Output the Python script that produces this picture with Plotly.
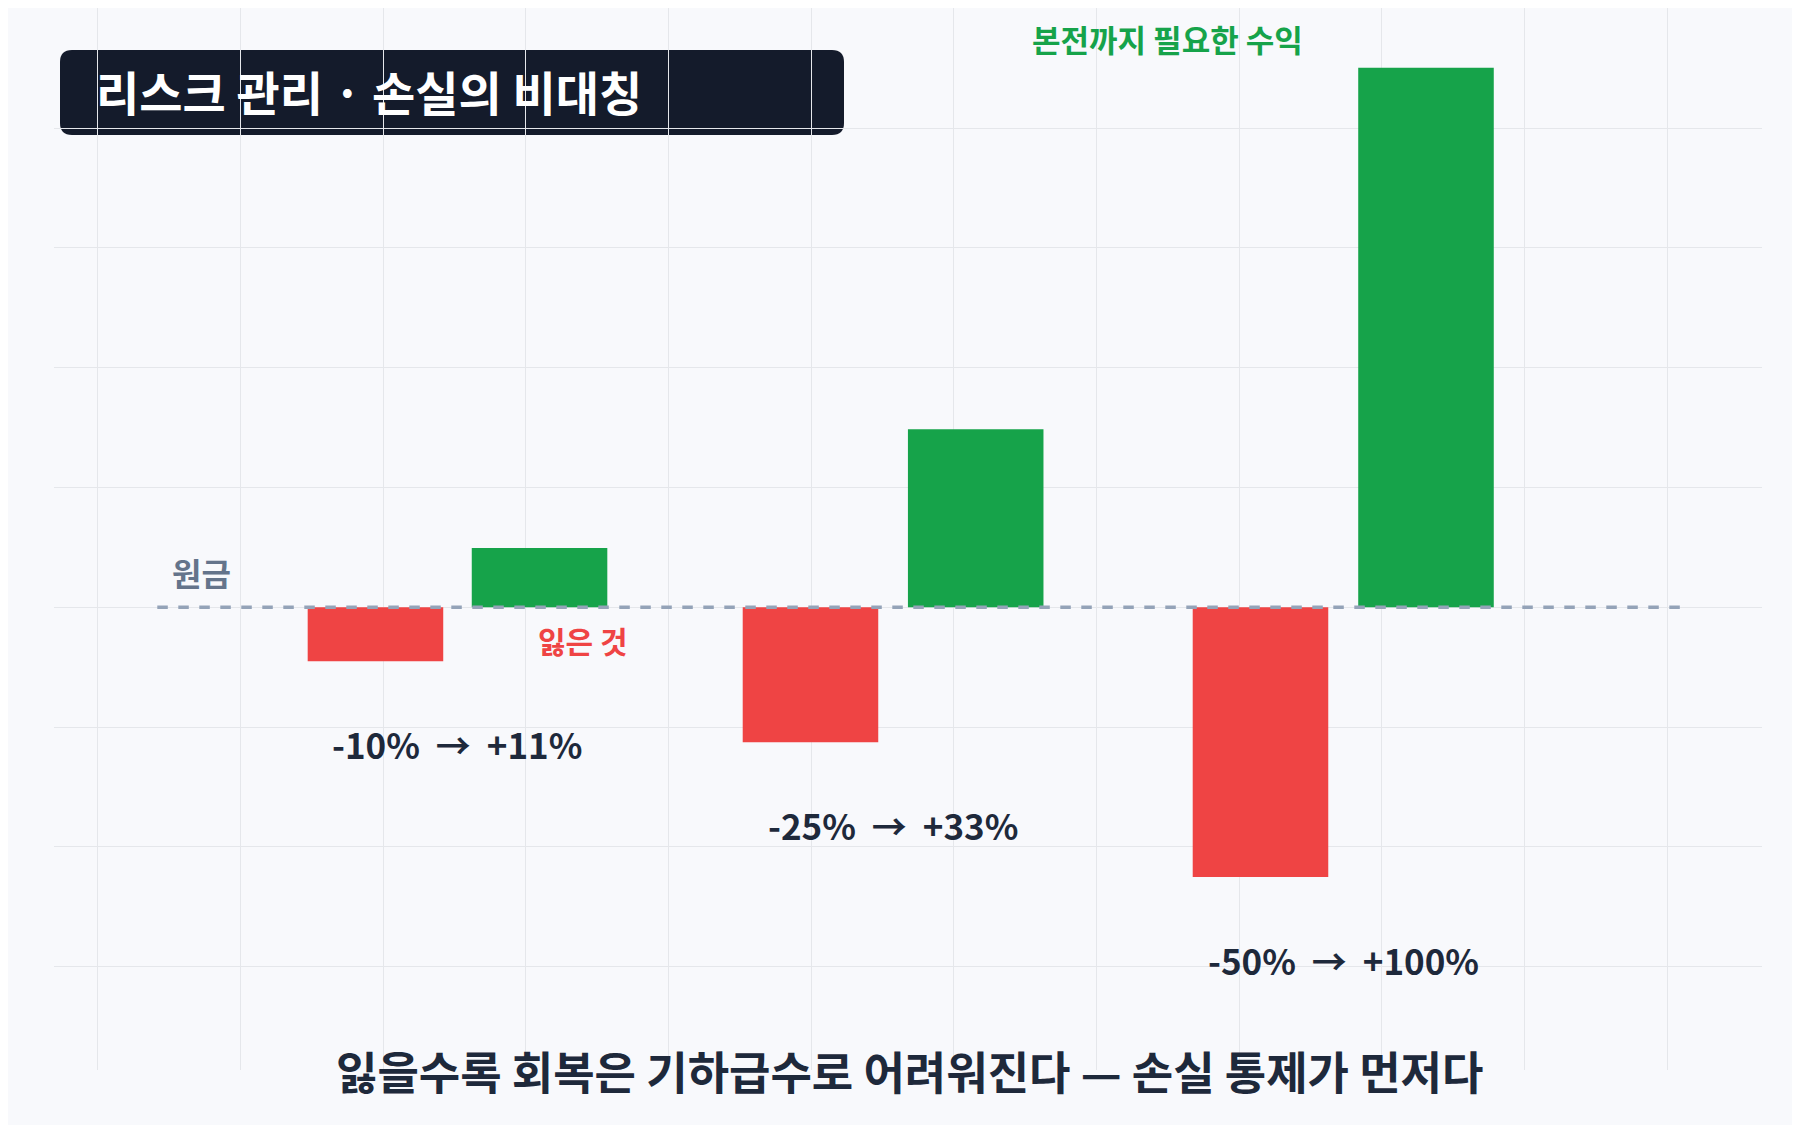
import plotly.graph_objects as go

losses = [-10, -25, -50]
gains = [11, 33, 100]
pair_labels = ["-10%  →  +11%", "-25%  →  +33%", "-50%  →  +100%"]
loss_x = [1.947, 4.996, 8.15]
gain_x = [3.097, 6.154, 9.31]

W, H = 1800, 1125
FONT = "Noto Sans CJK KR"
RED, GREEN = "#ef4444", "#16a34a"

fig = go.Figure()
fig.add_bar(x=loss_x, y=losses, width=0.95, marker=dict(color=RED, line_width=0), hoverinfo="skip")
fig.add_bar(x=gain_x, y=gains, width=0.95, marker=dict(color=GREEN, line_width=0), hoverinfo="skip")
fig.add_scatter(x=[0.418, 11.16], y=[0, 0], mode="lines",
                line=dict(color="#94a3b8", width=3.5, dash="dash"), hoverinfo="skip")

for lx, gx, l, t in zip(loss_x, gain_x, losses, pair_labels):
    fig.add_annotation(x=(lx + gx) / 2, y=l - 15.3, text=f"<b>{t}</b>", showarrow=False,
                       yanchor="middle", font=dict(family=FONT, size=35, color="#1e293b"))

fig.add_annotation(x=0.73, y=6.5, text="<b>원금</b>", showarrow=False, yanchor="middle",
                   font=dict(family=FONT, size=32, color="#64748b"))
fig.add_annotation(x=3.40, y=-6.0, text="<b>잃은 것</b>", showarrow=False, yanchor="middle",
                   font=dict(family=FONT, size=30, color=RED))
fig.add_annotation(x=7.5, y=105.5, text="<b>본전까지 필요한 수익</b>", showarrow=False,
                   yanchor="middle", font=dict(family=FONT, size=31, color=GREEN))

# title box
x0, x1, y0, y1, r = 52 / W, 836 / W, 1 - 42 / H, 1 - 127 / H, 12
rx, ry = r / W, r / H
path = (f"M {x0+rx},{y0} L {x1-rx},{y0} Q {x1},{y0} {x1},{y0-ry} L {x1},{y1+ry} "
        f"Q {x1},{y1} {x1-rx},{y1} L {x0+rx},{y1} Q {x0},{y1} {x0},{y1+ry} "
        f"L {x0},{y0-ry} Q {x0},{y0} {x0+rx},{y0} Z")
fig.add_shape(type="path", path=path, xref="paper", yref="paper",
              fillcolor="#141b2b", line_width=0, layer="below")
fig.add_annotation(xref="paper", yref="paper", x=86 / W, y=1 - 83 / H, xanchor="left",
                   yanchor="middle", text="<b>리스크 관리 · 손실의 비대칭</b>", showarrow=False,
                   font=dict(family=FONT, size=47, color="white"))
fig.add_annotation(xref="paper", yref="paper", x=901 / W, y=1 - 1062 / H, yanchor="middle",
                   text="<b>잃을수록 회복은 기하급수로 어려워진다 — 손실 통제가 먼저다</b>",
                   showarrow=False, font=dict(family=FONT, size=45, color="#1e293b"))

fig.update_layout(
    width=W, height=H, margin=dict(l=0, r=0, t=0, b=0),
    paper_bgcolor="#f8f9fc", plot_bgcolor="rgba(0,0,0,0)",
    showlegend=False, barmode="overlay",
    xaxis=dict(domain=[46 / W, 1754 / W], range=[-0.306, 11.665], tick0=0, dtick=1,
               showgrid=True, gridcolor="#e5e7eb", zeroline=False, showticklabels=False),
    yaxis=dict(domain=[1 - 1062 / H, 1], range=[-85.75, 111.07], tick0=0, dtick=22.2,
               showgrid=True, gridcolor="#e5e7eb", zeroline=False, showticklabels=False),
)
fig.write_html("out.html")
